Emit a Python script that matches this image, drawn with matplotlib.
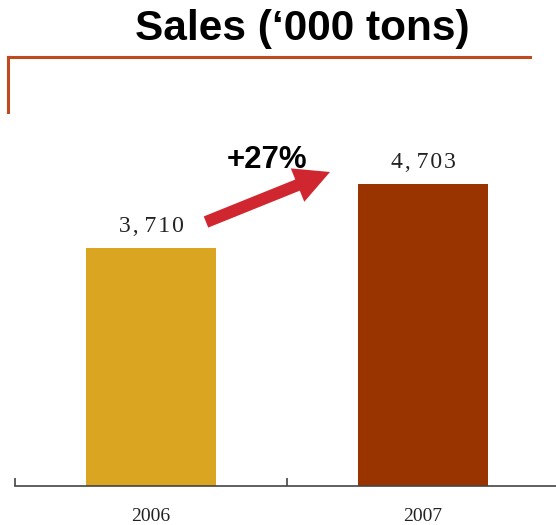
import matplotlib
matplotlib.use("Agg")
import matplotlib.pyplot as plt
import matplotlib.patches as mpatches
from matplotlib.lines import Line2D
from matplotlib.transforms import IdentityTransform

# ── data ──────────────────────────────────────────────────────────────────────
years  = ["2006", "2007"]
sales  = [3710, 4703]          # '000 tons
growth = "+27%"

C_GOLD  = "#DAA520"
C_RUST  = "#993300"
C_ARROW = "#D0262F"
C_FRAME = "#C04A20"

W, H = 556, 525
fig = plt.figure(figsize=(W / 100, H / 100), dpi=100)


def spaced(v):
    # "3, 710" style with a little extra tracking between the digits
    s = f"{v:,}".replace(",", ", ")
    return "\u200a".join(s).replace("\u200a \u200a", " ")


# axes spans from the left tick (x=15) to just past the right edge
ax = fig.add_axes([15 / W, 39 / H, 544 / W, 356 / H])
x = range(len(years))
ax.bar(x, sales, width=0.478, color=[C_GOLD, C_RUST])
ax.set_xlim(-0.5, 1.5)
ax.set_ylim(0, 5540)

for xi, v in zip(x, sales):
    ax.text(xi, v + 170, spaced(v), ha="center", va="bottom",
            family=["Liberation Serif", "DejaVu Serif"], fontsize=17,
            color="#222222")

for s in ["top", "right", "left"]:
    ax.spines[s].set_visible(False)
ax.spines["bottom"].set_color("#444444")
ax.spines["bottom"].set_linewidth(1.2)
ax.set_yticks([])
ax.set_xticks([-0.5, 0.5], minor=False)
ax.set_xticklabels(["", ""])
ax.tick_params(axis="x", direction="in", length=6, width=1.2, color="#444444")
ax.set_xticks(list(x), minor=True)
ax.set_xticklabels(years, minor=True, family="Liberation Serif", fontsize=14,
                   color="#222222")
ax.tick_params(axis="x", which="minor", length=0, pad=16)

# title and frame corner
fig.text(302 / W, 1 - 29 / H, "Sales (\u2018000 tons)", ha="center", va="center",
         family="Liberation Sans", fontweight="bold", fontsize=30.5)
fig.add_artist(Line2D([8 / W, 530 / W], [1 - 57 / H, 1 - 57 / H],
                      color=C_FRAME, lw=2.2, transform=fig.transFigure))
fig.add_artist(Line2D([8 / W, 8 / W], [1 - 57 / H, 1 - 112 / H],
                      color=C_FRAME, lw=2.2, transform=fig.transFigure))

# growth arrow
arrow = mpatches.FancyArrow(206, H - 222, 124, 50, width=12, head_width=36,
                            head_length=35, length_includes_head=True,
                            color=C_ARROW, lw=0, transform=IdentityTransform())
fig.add_artist(arrow)
fig.text(267 / W, 1 - 160 / H, growth, ha="center", va="center",
         family="Liberation Sans", fontweight="bold", fontsize=22.5)

fig.savefig("out.png", dpi=100)
